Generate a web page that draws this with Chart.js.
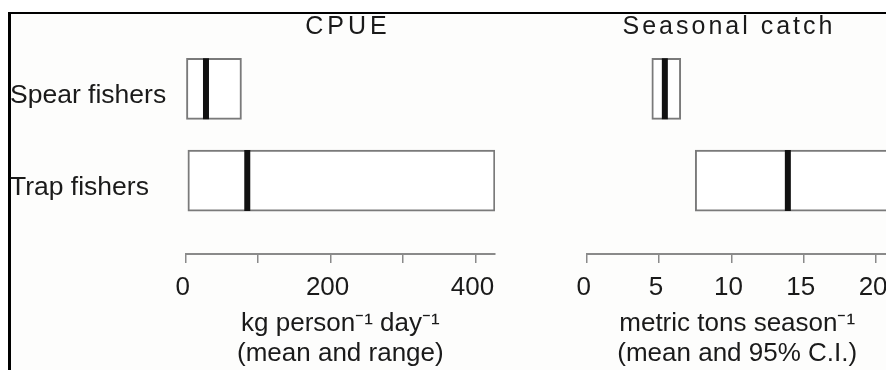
<!DOCTYPE html>
<html>
<head>
<meta charset="utf-8">
<script src="https://cdn.jsdelivr.net/npm/chart.js@4.4.1/dist/chart.umd.min.js"></script>
<style>
  html, body { margin: 0; padding: 0; width: 886px; height: 370px; overflow: hidden; background: #fff; }
  #frame { position: absolute; left: 8px; top: 12px; width: 920px; height: 400px;
           border-left: 3px solid #000; border-top: 2px solid #000; background: #fdfdfc; }
  #chart-cpue  { position: absolute; left: 0; top: 0; }
  #chart-catch { position: absolute; left: 520px; top: 0; }
</style>
</head>
<body>
<div id="frame"></div>
<canvas id="chart-cpue"  width="520" height="370"></canvas>
<canvas id="chart-catch" width="400" height="370"></canvas>

<script>
// ── data ───────────────────────────────────────────────
const groups = ['Spear fishers', 'Trap fishers'];

// CPUE, kg person-1 day-1: mean and range
const cpueMean   = [28, 85];
const cpueRange  = [[0, 77], [3, 427]];
const cpueTicks  = [0, 100, 200, 300, 400];
const cpueLabels = [0, 200, 400];
const cpueMax    = 427;

// Seasonal catch, metric tons season-1: mean and 95% C.I.
// (upper limit for trap fishers runs off the edge of the figure)
const catchMean   = [5.4, 13.9];
const catchCI     = [[4.5, 6.5], [7.5, 21.2]];
const catchTicks  = [0, 5, 10, 15, 20];
const catchLabels = [0, 5, 10, 15, 20];
const catchMax    = 20.8;

// ── styles ─────────────────────────────────────────────
const FONT = "'Liberation Sans', Arial, Helvetica, sans-serif";
const INK  = '#1a1a1a';
const AXIS = '#8a8a8a';

// panel heading, drawn with a little letter spacing like the original
const panelTitle = {
  id: 'panelTitle',
  afterDraw(chart, args, opts) {
    const ctx = chart.ctx;
    ctx.save();
    ctx.font = `${opts.size}px ${FONT}`;
    ctx.fillStyle = INK;
    ctx.textAlign = 'center';
    ctx.textBaseline = 'alphabetic';
    ctx.letterSpacing = opts.spacing + 'px';
    ctx.fillText(opts.text, opts.x, opts.y);
    ctx.restore();
  }
};

function drawPanel(canvasId, p) {
  const rows = groups.map((g, i) => i + 1);

  return new Chart(document.getElementById(canvasId), {
    type: 'bar',
    data: {
      datasets: [
        {
          // box = range / confidence interval
          type: 'bar',
          data: p.spans.map((s, i) => ({ x: s, y: rows[i] })),
          backgroundColor: '#ffffff',
          borderColor: '#7a7a7a',
          borderWidth: 2,
          borderSkipped: false,
          barThickness: 61,
          order: 2
        },
        {
          // thick black bar = mean
          type: 'line',
          data: p.means.map((m, i) => ({ x: m, y: rows[i] })),
          showLine: false,
          pointStyle: 'line',
          pointRotation: 90,
          pointRadius: 30.5,
          pointHoverRadius: 30.5,
          pointBorderWidth: 6,
          pointBorderColor: '#111',
          order: 1
        }
      ]
    },
    options: {
      indexAxis: 'y',
      responsive: false,
      animation: false,
      events: [],
      layout: { autoPadding: false, padding: p.padding },
      plugins: {
        legend:  { display: false },
        tooltip: { enabled: false },
        panelTitle: p.title
      },
      scales: {
        x: {
          type: 'linear',
          min: 0,
          max: p.max,
          afterBuildTicks: s => { s.ticks = p.ticks.map(v => ({ value: v })); },
          afterFit: s => { s.height = 116; s.paddingLeft = 0; s.paddingRight = 0; },
          ticks: {
            autoSkip: false,
            maxRotation: 0,
            padding: 9,
            labelOffset: -3,
            color: INK,
            font: { family: FONT, size: 26 },
            callback: v => p.labels.includes(v) ? String(v) : ''
          },
          grid:   { drawOnChartArea: false, color: AXIS, lineWidth: 1.5, tickLength: 9 },
          border: { color: AXIS, width: 2 },
          title: {
            display: true,
            text: p.axisTitle,
            color: INK,
            font: { family: FONT, size: 26, lineHeight: 1.12 },
            padding: { top: 0, bottom: 2 }
          }
        },
        y: {
          type: 'linear',
          reverse: true,
          offset: false,
          min: 0.5,
          max: 2.8,
          display: p.showGroups,
          afterBuildTicks: s => { s.ticks = rows.map(v => ({ value: v })); },
          afterFit: s => { if (p.showGroups) s.width = 175.7; },
          ticks: {
            crossAlign: 'far',
            padding: 0,
            labelOffset: 7,
            color: INK,
            font: { family: FONT, size: 26.5 },
            callback: v => groups[v - 1]
          },
          grid:   { display: false, offset: false },
          border: { display: false }
        }
      }
    },
    plugins: [panelTitle]
  });
}

drawPanel('chart-cpue', {
  spans: cpueRange,
  means: cpueMean,
  ticks: cpueTicks,
  labels: cpueLabels,
  max: cpueMax,
  showGroups: true,
  padding: { left: 10, right: 25, top: 43, bottom: 0 },
  axisTitle: ['kg person⁻¹ day⁻¹', '(mean and range)'],
  title: { text: 'CPUE', x: 348, y: 34, size: 25, spacing: 4 }
});

drawPanel('chart-catch', {
  spans: catchCI,
  means: catchMean,
  ticks: catchTicks,
  labels: catchLabels,
  max: catchMax,
  showGroups: false,
  padding: { left: 66.7, right: 32.3, top: 43, bottom: 0 },
  axisTitle: ['metric tons season⁻¹', '(mean and 95% C.I.)'],
  title: { text: 'Seasonal catch', x: 209, y: 34, size: 25, spacing: 3 }
});
</script>
</body>
</html>
